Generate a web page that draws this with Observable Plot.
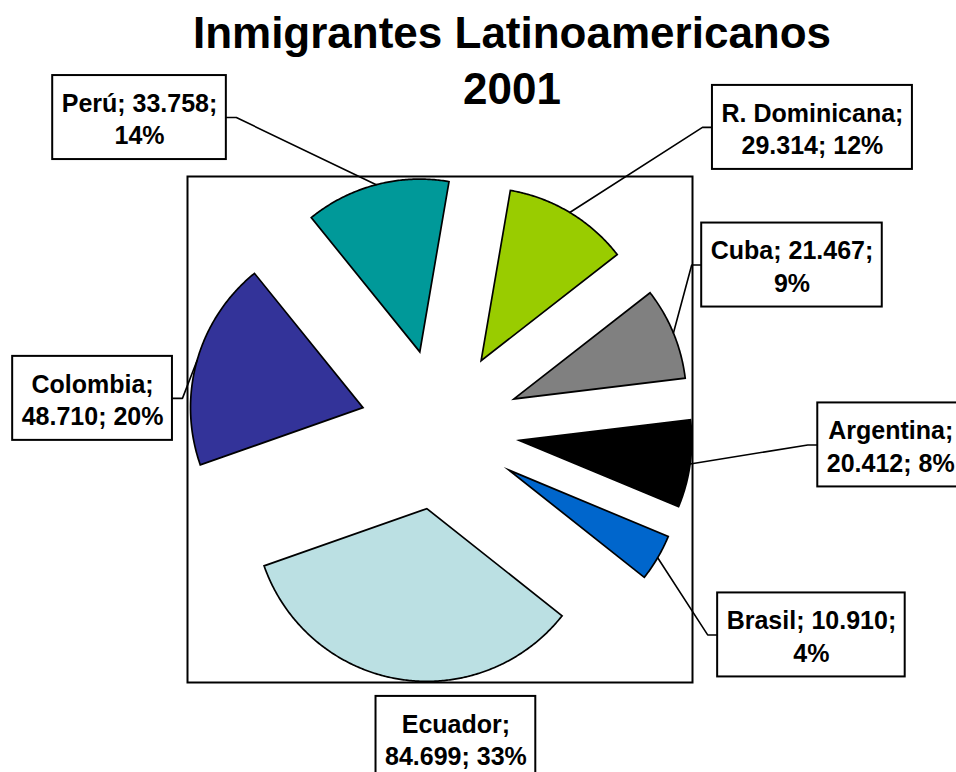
<!DOCTYPE html>
<html><head><meta charset="utf-8">
<script src="https://cdn.jsdelivr.net/npm/d3@7"></script>
<script src="https://cdn.jsdelivr.net/npm/@observablehq/plot@0.6"></script>
<style>
html,body{margin:0;padding:0;background:#fff;overflow:hidden;}
#wrap{position:relative;width:956px;height:772px;}
#title{position:absolute;left:112px;width:800px;top:5px;text-align:center;font:bold 44px/56px "Liberation Sans",Arial,sans-serif;color:#000;z-index:2;}
#chart{position:absolute;left:0;top:0;}
</style></head><body>
<div id="wrap"><div id="title">Inmigrantes Latinoamericanos<br>2001</div><div id="chart"></div></div>
<script>
// ---- data ----
const countries = ["Perú", "R. Dominicana", "Cuba", "Argentina", "Brasil", "Ecuador", "Colombia"];
const immigrants = [33758, 29314, 21467, 20412, 10910, 84699, 48710];
const percentLabels = ["14%", "12%", "9%", "8%", "4%", "33%", "20%"];
const sliceColors = ["#009999", "#99CC00", "#808080", "#000000", "#0066CC", "#BBE0E3", "#333399"];
// label anchor positions in chart units (plot frame spans [-1, 1])
const labelX = [-1.190, 1.475, 1.394, 1.785, 1.471, 0.063, -1.376];
const labelY = [1.233, 1.194, 0.650, -0.061, -0.812, -1.221, 0.123];

// ---- layout ----
const firstAngle = -39;      // degrees clockwise from 12 o'clock
const R = 0.683, E = 0.317;  // pie radius and explosion (chart units)
const PX = 252.5, PY = 253;  // pixels per chart unit
const FONT = '"Liberation Sans", Arial, sans-serif';
const rad = d => d * Math.PI / 180;

const total = d3.sum(immigrants);
let acc = 0;
const slices = countries.map((name, i) => {
  const a0 = firstAngle + 360 * acc / total;
  acc += immigrants[i];
  const a1 = firstAngle + 360 * acc / total;
  return {name, a0, a1, mid: (a0 + a1) / 2, color: sliceColors[i]};
});

const slicePts = slices.flatMap(s => {
  const ox = E * Math.sin(rad(s.mid)), oy = E * Math.cos(rad(s.mid));
  const pts = [{name: s.name, color: s.color, x: ox, y: oy}];
  const n = Math.max(4, Math.ceil((s.a1 - s.a0) * 2));
  for (let k = 0; k <= n; k++) {
    const a = s.a0 + (s.a1 - s.a0) * k / n;
    pts.push({name: s.name, color: s.color, x: ox + R * Math.sin(rad(a)), y: oy + R * Math.cos(rad(a))});
  }
  return pts;
});

const fmt = d3.formatLocale({decimal: ",", thousands: ".", grouping: [3], currency: ["", "€"]}).format(",d");
const ctx = document.createElement("canvas").getContext("2d");
ctx.font = "bold 25px " + FONT;

const labels = countries.map((c, i) => {
  const v = fmt(immigrants[i]);
  const text = c.length >= 7 ? `${c};\n${v}; ${percentLabels[i]}` : `${c}; ${v};\n${percentLabels[i]}`;
  const w = d3.max(text.split("\n"), l => ctx.measureText(l).width);
  const hw = (w / 2 + 9) / PX, hh = 42 / PY;
  const x = labelX[i], y = labelY[i];
  return {name: c, text, x, y, x1: x - hw, x2: x + hw, y1: y - hh, y2: y + hh, hw};
});

const leaderPts = labels.flatMap((l, i) => {
  const s = slices[i];
  const ax = Math.sin(rad(s.mid)) * (R + E), ay = Math.cos(rad(s.mid)) * (R + E);
  if (ax >= l.x1 && ax <= l.x2) return [];
  const left = ax < l.x;
  const ex = left ? l.x1 : l.x2;
  const bx = ex + (left ? -10 : 10) / PX;
  return [
    {name: l.name, x: ax, y: ay},
    {name: l.name, x: bx, y: l.y},
    {name: l.name, x: ex, y: l.y}
  ];
});

const chart = Plot.plot({
  width: 956, height: 772,
  marginLeft: 187, marginRight: 264, marginTop: 176, marginBottom: 90,
  x: {domain: [-1, 1], axis: null},
  y: {domain: [-1, 1], axis: null},
  color: {type: "identity"},
  style: {background: "white", fontFamily: FONT},
  marks: [
    Plot.line(slicePts, {x: "x", y: "y", z: "name", fill: "color", stroke: "black", strokeWidth: 1.7, curve: "linear-closed", strokeLinejoin: "miter", strokeMiterlimit: 10}),
    Plot.frame({stroke: "black", strokeWidth: 2}),
    Plot.line(leaderPts, {x: "x", y: "y", z: "name", stroke: "black", strokeWidth: 1.6, strokeLinejoin: "miter"}),
    Plot.rect(labels, {x1: "x1", x2: "x2", y1: "y1", y2: "y2", fill: "white", stroke: "black", strokeWidth: 2}),
    Plot.text(labels, {x: "x", y: "y", text: "text", fontSize: 25, fontWeight: "bold", lineHeight: 1.3, fill: "black", fontFamily: FONT})
  ]
});
document.getElementById("chart").appendChild(chart);
</script>
</body></html>
